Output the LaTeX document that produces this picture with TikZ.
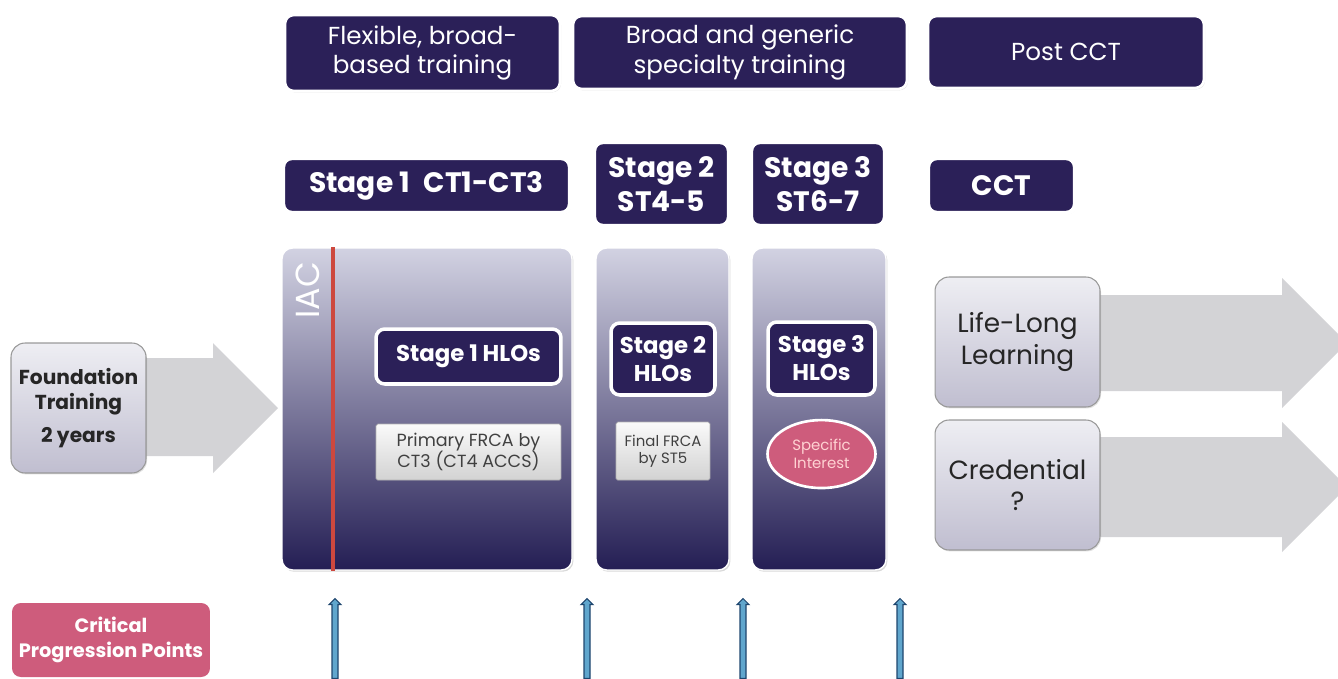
\documentclass[tikz,border=0pt]{standalone}
\usepackage{fontspec}
\setmainfont{Poppins}
\usepackage{tikz}
\usetikzlibrary{arrows}
\usetikzlibrary{shapes}
\usetikzlibrary{shadows}
\usetikzlibrary{positioning}
\usetikzlibrary{calc}
\definecolor{navy}{RGB}{43,32,88}
\definecolor{panelTop}{RGB}{210,210,226}
\definecolor{panelBot}{RGB}{36,30,84}
\definecolor{greyArr}{RGB}{211,211,214}
\definecolor{boxTop}{RGB}{238,238,243}
\definecolor{boxBot}{RGB}{192,190,208}
\definecolor{rose}{RGB}{206,92,124}
\definecolor{redline}{RGB}{205,72,62}
\definecolor{cppFill}{RGB}{96,166,205}
\definecolor{cppDraw}{RGB}{30,70,110}
\tikzstyle{darkbox}=[rectangle, rounded corners=5pt, fill=navy, draw=white, line width=1.5pt, text=white, align=center, drop shadow={opacity=0.25, shadow xshift=0.6pt, shadow yshift=-0.8pt}]
\tikzstyle{header}=+[darkbox, font=\fontsize{14}{17}\selectfont]
\tikzstyle{stage}=+[darkbox, line width=2.5pt, font=\bfseries\fontsize{16}{19}\selectfont]
\tikzstyle{hlo}=+[darkbox, line width=2pt, font=\bfseries\fontsize{13}{16}\selectfont]
\tikzstyle{panel}=[rectangle, rounded corners=6pt, top color=panelTop, bottom color=panelBot, draw=white, line width=0.8pt, drop shadow={opacity=0.3, shadow xshift=0.8pt, shadow yshift=-1pt}]
\tikzstyle{softbox}=[rectangle, rounded corners=8pt, top color=boxTop, bottom color=boxBot, draw=gray!80, line width=0.6pt, align=center, text=black!85, drop shadow={opacity=0.25, shadow xshift=0.6pt, shadow yshift=-0.8pt}]
\tikzstyle{note}=[rectangle, rounded corners=1pt, top color=white!96!gray, bottom color=gray!35, draw=gray!60, align=center, text=black!75]
\tikzstyle{cpp}=[single arrow, rotate=90, fill=cppFill, draw=cppDraw, line width=0.6pt, minimum height=1.6cm, minimum width=0.24cm, single arrow head extend=1.5pt, inner sep=1.2pt]

\begin{document}
\begin{tikzpicture}[x=0.02cm, y=-0.02cm]
	\useasboundingbox (0,0) rectangle (1338,679);
	% grey arrows behind the side boxes
	\fill[greyArr] (140,358) -- (213,358) -- (213,343) -- (278,408) -- (213,473) -- (213,456) -- (140,456) -- cycle;
	\fill[greyArr] (1095,295) -- (1282,295) -- (1282,278) -- (1347,343) -- (1282,408) -- (1282,391) -- (1095,391) -- cycle;
	\fill[greyArr] (1095,437) -- (1282,437) -- (1282,422) -- (1347,487) -- (1282,552) -- (1282,537) -- (1095,537) -- cycle;
	% headers
	\node (H1) at (422.5,53) [header, minimum width=5.5cm, minimum height=1.52cm] {Flexible, broad-\\based training};
	\node (H2) at (740,52.5) [header, minimum width=6.68cm, minimum height=1.46cm] {Broad and generic\\specialty training};
	\node (H3) at (1066,52) [header, minimum width=5.52cm, minimum height=1.44cm] {Post CCT};
	% stages
	\node (S1) at (426.5,185.5) [stage, minimum width=5.74cm, minimum height=1.1cm] {Stage 1\enspace CT1-CT3};
	\node (S2) at (661.5,184) [stage, minimum width=2.7cm, minimum height=1.68cm] {Stage 2\\ST4-5};
	\node (S3) at (818,184) [stage, minimum width=2.68cm, minimum height=1.68cm] {Stage 3\\ST6-7};
	\node (CCT) at (1001.5,185.5) [stage, minimum width=2.94cm, minimum height=1.1cm] {CCT};
	% panels
	\node (P1) at (427,409) [panel, minimum width=5.8cm, minimum height=6.44cm] {};
	\node (P2) at (662.5,409) [panel, minimum width=2.66cm, minimum height=6.44cm] {};
	\node (P3) at (819,409) [panel, minimum width=2.68cm, minimum height=6.44cm] {};
	\draw[redline, line width=2.2pt] ($(P1.north west)+(52,0)$) -- ($(P1.south west)+(52,0)$);
	\node (IAC) at (308,290) [rotate=90, text=white, font=\fontsize{19}{20}\selectfont] {IAC};
	\node (L1) at (468.5,356.5) [hlo, minimum width=3.7cm, minimum height=1.1cm] {Stage 1 HLOs};
	\node (L2) at (663,359) [hlo, minimum width=2.08cm, minimum height=1.44cm] {Stage 2\\HLOs};
	\node (L3) at (821.5,358.5) [hlo, minimum width=2.14cm, minimum height=1.46cm] {Stage 3\\HLOs};
	\node (N1) [below = 0.76cm of L1, note, minimum width=3.7cm, minimum height=1.12cm, font=\fontsize{10}{12}\selectfont] {Primary FRCA by\\CT3 (CT4 ACCS)};
	\node (N2) [below = 0.5cm of L2, note, minimum width=1.88cm, minimum height=1.16cm, font=\fontsize{8.5}{10}\selectfont] {Final FRCA\\by ST5};
	\node (SI) [below = 0.44cm of L3, ellipse, fill=rose, draw=white, line width=1.5pt, minimum width=2.16cm, minimum height=1.36cm, inner sep=0pt, align=center, text=pink!70!white, font=\fontsize{8.5}{10}\selectfont] {Specific\\Interest};
	% side boxes
	\node (FT) at (78.5,408) [softbox, minimum width=2.7cm, minimum height=2.6cm, font=\bfseries\fontsize{11.5}{14}\selectfont] {Foundation\\Training\\[5pt]2 years};
	\node (LL) at (1017.5,342) [softbox, minimum width=3.3cm, minimum height=2.6cm, font=\fontsize{15}{18}\selectfont] {Life-Long\\Learning};
	\node (CR) at (1017.5,485) [softbox, minimum width=3.3cm, minimum height=2.6cm, font=\fontsize{15}{18}\selectfont] {Credential\\?};
	% critical progression points
	\node (CPP) at (111,640) [rectangle, rounded corners=5pt, fill=rose, minimum width=3.96cm, minimum height=1.48cm, inner sep=1pt, align=center, text=white, font=\bfseries\fontsize{11}{14}\selectfont] {Critical\\Progression Points};
	\node (C1) at (335,640) [cpp] {};
	\node (C2) at (587,640) [cpp] {};
	\node (C3) at (743,640) [cpp] {};
	\node (C4) at (900,640) [cpp] {};
\end{tikzpicture}
\end{document}
